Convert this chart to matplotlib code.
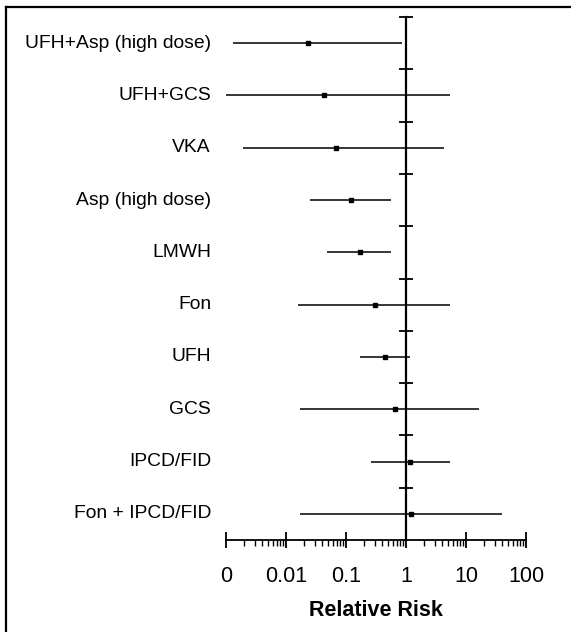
import matplotlib
matplotlib.use("Agg")
import matplotlib.pyplot as plt
from matplotlib.lines import Line2D
from matplotlib.ticker import FixedLocator, LogLocator, NullFormatter
import numpy as np

plt.rcParams['font.family'] = ['Liberation Sans', 'DejaVu Sans']

categories = ["UFH+Asp (high dose)", "UFH+GCS", "VKA", "Asp (high dose)", "LMWH",
              "Fon", "UFH", "GCS", "IPCD/FID", "Fon + IPCD/FID"]
rr = [0.023, 0.043, 0.068, 0.12, 0.17, 0.30, 0.45, 0.66, 1.18, 1.23]
lower = [0.0013, 0.001, 0.0019, 0.025, 0.048, 0.016, 0.17, 0.017, 0.26, 0.017]
upper = [0.86, 5.5, 4.3, 0.56, 0.56, 5.5, 1.18, 16.4, 5.5, 40.5]
xticks = [0.001, 0.01, 0.1, 1, 10, 100]
xticklabels = ["0", "0.01", "0.1", "1", "10", "100"]

W, H = 571, 632
fig = plt.figure(figsize=(W / 100, H / 100), dpi=100)
ax = fig.add_axes([226 / W, 1 - 540 / H, 300 / W, (540 - 17) / H])

y = np.arange(len(categories))
ax.hlines(y, lower, upper, color="black", lw=1.1)
ax.plot(rr, y, 's', color="black", markersize=2.3)

ax.set_xscale('log')
ax.set_xlim(xticks[0], xticks[-1])
ax.set_ylim(len(categories) - 0.5, -0.5)

for s in ['top', 'right']:
    ax.spines[s].set_visible(False)
ax.spines['left'].set_position(('data', 1))
ax.spines['left'].set_linewidth(1.6)
ax.spines['bottom'].set_linewidth(1.3)

ax.yaxis.set_major_locator(FixedLocator(y - 0.5))
ax.tick_params(axis='y', direction='inout', length=10, width=1.3, labelleft=False)

ax.xaxis.set_major_locator(FixedLocator(xticks))
ax.set_xticklabels(xticklabels, fontsize=15.5)
ax.xaxis.set_minor_locator(LogLocator(base=10, subs=np.arange(2, 10)))
ax.xaxis.set_minor_formatter(NullFormatter())
ax.tick_params(axis='x', which='major', direction='inout', length=12, width=1.3, pad=13)
ax.tick_params(axis='x', which='minor', direction='out', length=4, width=1.0)

ax.set_xlabel("Relative Risk", fontsize=15.5, fontweight='bold', labelpad=9)

tr = ax.get_yaxis_transform()
for yi, name in zip(y, categories):
    ax.text(-0.05, yi, name, transform=tr, ha='right', va='center', fontsize=13.9)

# outer frame (left and top edges visible)
fig.add_artist(Line2D([6 / W, 1.0], [1 - 7 / H, 1 - 7 / H], transform=fig.transFigure,
                      color="black", lw=1.6))
fig.add_artist(Line2D([6 / W, 6 / W], [1 - 7 / H, 0.0], transform=fig.transFigure,
                      color="black", lw=1.6))

fig.savefig("out.png", dpi=100, facecolor="white")
